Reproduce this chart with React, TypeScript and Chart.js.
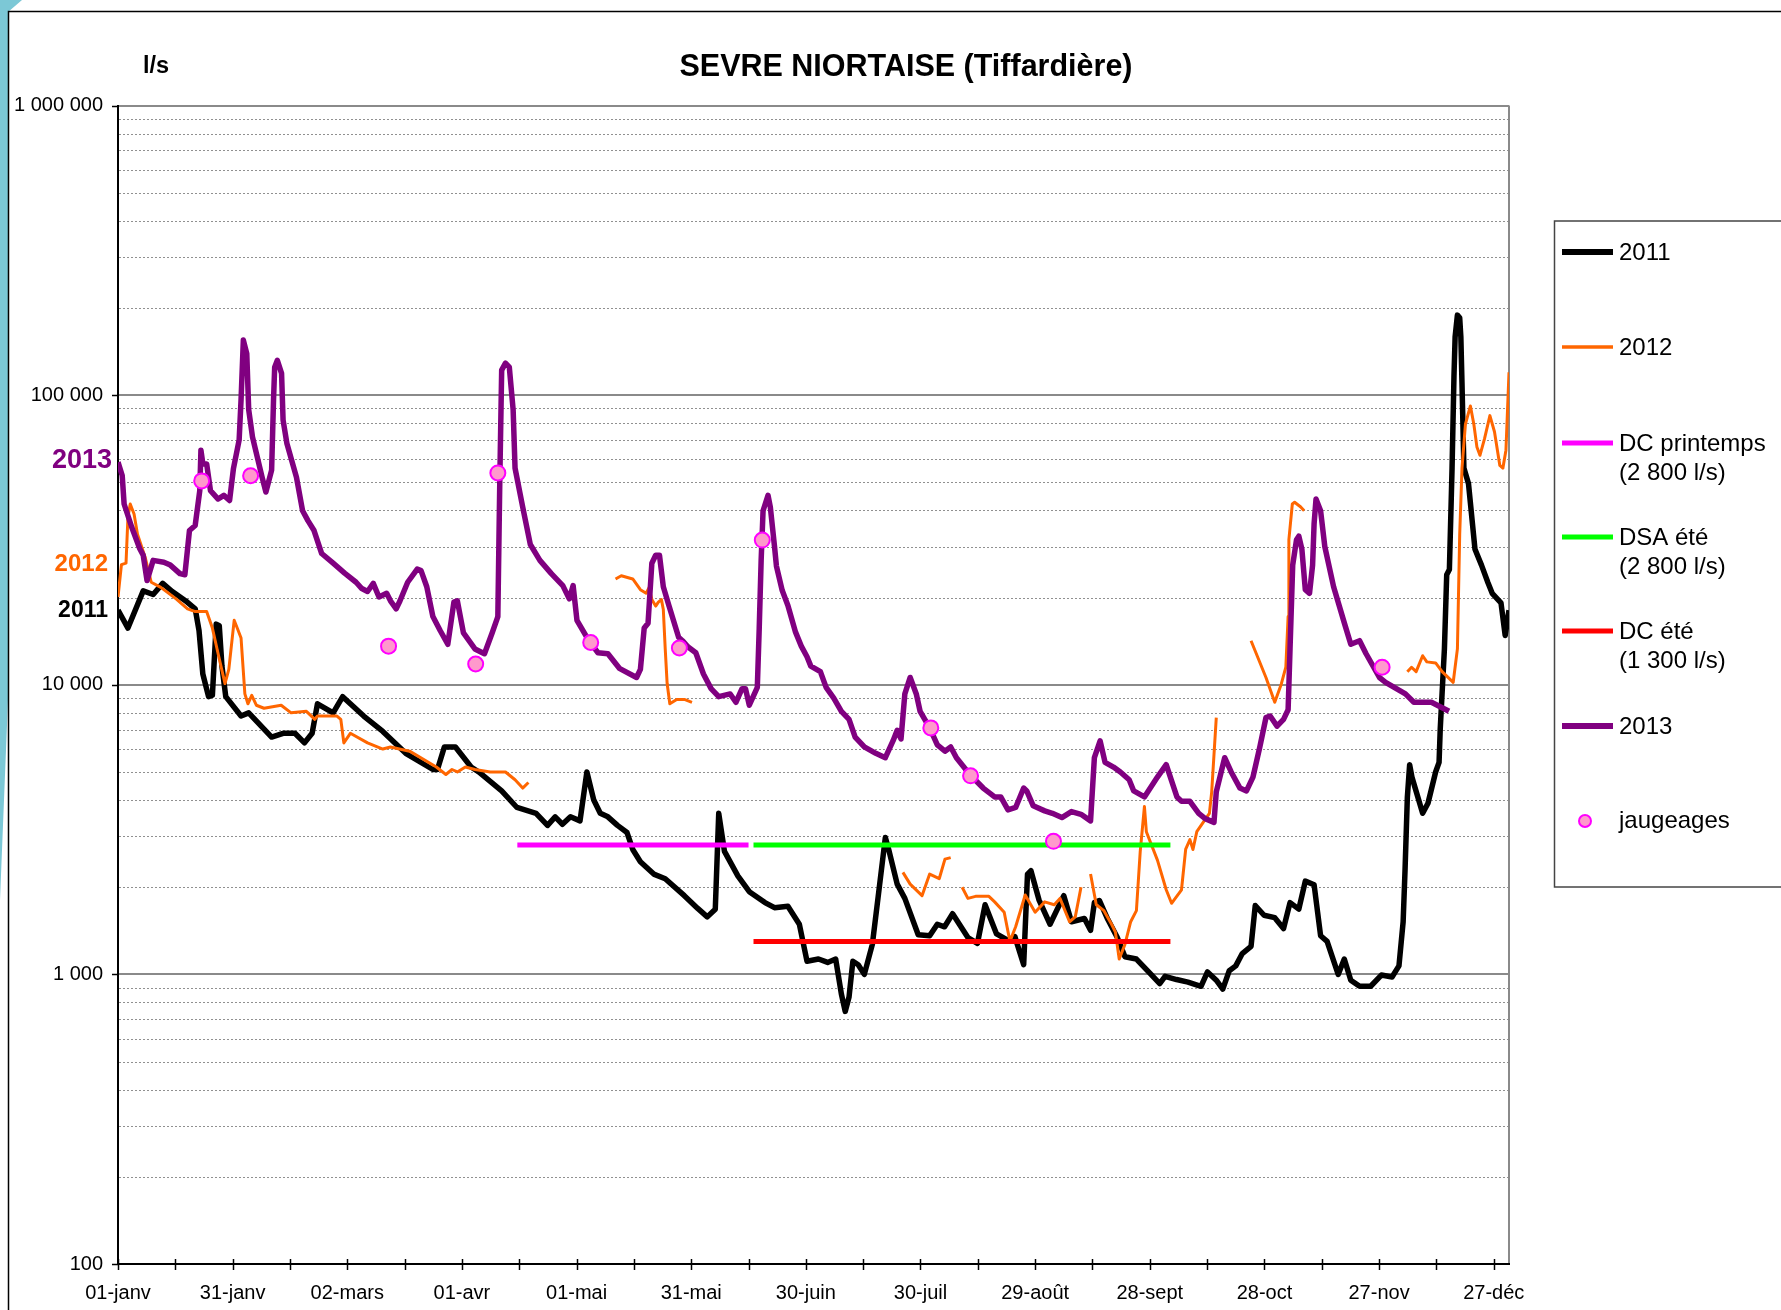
import React, { useEffect, useRef } from "react";
import { Chart, registerables } from "chart.js";

Chart.register(...registerables);

// ---------- Axis labels ----------
const X_TICK_DAYS = [0, 30, 60, 90, 120, 150, 180, 210, 240, 270, 300, 330, 360];
const X_TICK_LABELS = ["01-janv", "31-janv", "02-mars", "01-avr", "01-mai", "31-mai", "30-juin", "30-juil", "29-août", "28-sept", "28-oct", "27-nov", "27-déc"];
const Y_TICK_VALUES = [100, 1000, 10000, 100000, 1000000];
const Y_TICK_LABELS = ["100", "1 000", "10 000", "100 000", "1 000 000"];

// ---------- 2011 (day of year, l/s) ----------
const DAYS_2011 = [0, 2.6, 6.6, 9.2, 11.7, 14.2, 18.1, 20.2, 21.2, 22.2, 23.7, 24.7, 25.7, 26.5, 27.2, 28.2, 32.2, 34.2, 40.2, 43.2, 46.3, 48.8, 50.8, 52.2, 56.3, 58.8, 64.3, 69.3, 75.3, 82.4, 83.6, 85.4, 88.3, 92.4, 94.4, 100.4, 104.4, 109.4, 112.4, 114.4, 116.3, 118.4, 120.9, 122.7, 124.5, 126.2, 128.2, 130.7, 133.2, 134.7, 136.7, 140.2, 143.2, 148.2, 151.7, 154.2, 156.3, 157.2, 158.7, 162.2, 165.2, 169.3, 171.8, 175.3, 178.3, 180.3, 183.3, 185.7, 187.8, 189.3, 190.3, 191.3, 192.3, 193.7, 195.3, 197.4, 198.8, 200.8, 201.8, 203.9, 205.9, 209.4, 212.4, 214.4, 216.3, 218.4, 222.4, 224.9, 226.9, 229.9, 232.9, 234.7, 237.0, 238.0, 238.9, 241.0, 243.9, 247.5, 249.5, 252.9, 254.5, 255.5, 256.8, 259.0, 261.5, 263.5, 266.5, 269.7, 272.6, 274.0, 277.0, 280.0, 283.4, 285.1, 287.4, 289.1, 290.8, 292.5, 294.2, 296.5, 297.6, 299.9, 302.7, 305.0, 306.7, 309.0, 310.7, 313.0, 314.7, 316.4, 319.3, 320.9, 322.6, 324.9, 327.8, 330.6, 333.4, 335.2, 336.3, 336.8, 337.4, 338.0, 338.6, 341.4, 342.8, 344.8, 345.7, 346.0, 346.5, 347.1, 347.7, 348.4, 349.1, 349.6, 349.9, 350.5, 351.1, 351.4, 351.7, 352.2, 353.4, 355.1, 356.8, 358.5, 359.6, 361.9, 363.0, 364];
const FLOW_2011 = [18100, 15700, 21100, 20500, 22400, 21000, 19300, 18300, 15400, 10900, 9100, 9200, 16200, 16000, 11600, 9100, 7800, 8000, 6600, 6800, 6800, 6300, 6800, 8600, 8000, 9100, 7800, 6900, 5800, 5100, 5100, 6100, 6100, 5200, 5000, 4300, 3770, 3600, 3270, 3500, 3300, 3500, 3390, 5000, 4000, 3600, 3500, 3270, 3090, 2700, 2450, 2220, 2140, 1870, 1690, 1580, 1680, 3600, 2660, 2190, 1930, 1770, 1700, 1720, 1490, 1110, 1130, 1100, 1130, 855, 745, 835, 1110, 1080, 1000, 1270, 1800, 2970, 2660, 2050, 1830, 1370, 1360, 1490, 1460, 1620, 1340, 1280, 1740, 1380, 1310, 1350, 1080, 2220, 2280, 1810, 1490, 1870, 1520, 1560, 1420, 1770, 1800, 1550, 1340, 1150, 1130, 1020, 930, 985, 960, 940, 910, 1020, 955, 890, 1030, 1070, 1180, 1250, 1730, 1600, 1570, 1440, 1770, 1680, 2100, 2040, 1360, 1300, 1000, 1130, 955, 910, 910, 995, 980, 1070, 1520, 2300, 4090, 5300, 4800, 3600, 3900, 5000, 5400, 7000, 9400, 13300, 24000, 25000, 56000, 116000, 159000, 189000, 185000, 159000, 110000, 56000, 49500, 29400, 25900, 22500, 20700, 19200, 14800, 18100];

// ---------- 2012 (several recorded stretches) ----------
const DAYS_2012_A = [0, 0.9, 2.1, 2.6, 3.2, 4.2, 5.1, 7.1, 8.7, 11.2, 15.2, 18.2, 20.2, 23.2, 24.7, 26.2, 28.0, 29.0, 30.4, 31.2, 32.2, 33.2, 34.0, 35.0, 36.2, 38.2, 42.7, 45.3, 49.3, 51.5, 52.2, 57.3, 58.3, 59.1, 60.8, 65.3, 69.3, 71.3, 76.3, 83.3, 85.8, 87.4, 88.8, 90.9, 93.4, 97.4, 101.4, 103.9, 105.9, 107.4];
const FLOW_2012_A = [20100, 26000, 26300, 37900, 42100, 38900, 33100, 27600, 22600, 21700, 19800, 18300, 17900, 17900, 15700, 12800, 10100, 11300, 16700, 15700, 14500, 9300, 8600, 9200, 8500, 8300, 8500, 8000, 8100, 7600, 7800, 7800, 7600, 6300, 6800, 6300, 6000, 6100, 5900, 5200, 4900, 5100, 5000, 5200, 5100, 5000, 5000, 4700, 4400, 4600];
const DAYS_2012_B = [130.2, 131.7, 134.7, 136.7, 138.2, 139.0, 139.7, 140.7, 141.4, 142.2, 142.7, 143.2, 143.7, 144.4, 146.2, 148.2, 150.2];
const FLOW_2012_B = [23200, 23800, 23200, 21300, 20700, 21700, 19700, 18700, 19300, 19700, 18200, 13300, 10100, 8600, 8900, 8900, 8700];
const DAYS_2012_C = [205.4, 207.3, 210.4, 212.4, 214.9, 216.4, 217.9];
const FLOW_2012_C = [2250, 2050, 1870, 2220, 2140, 2500, 2530];
const DAYS_2012_D = [220.9, 222.4, 224.4, 227.9, 229.4, 231.9, 233.4, 234.9, 237.4, 240.0, 242.5, 245.0, 246.5, 249.0, 250.5, 252.0];
const FLOW_2012_D = [2000, 1830, 1860, 1860, 1780, 1640, 1300, 1460, 1880, 1640, 1780, 1740, 1830, 1520, 1580, 2000];
const DAYS_2012_E = [254.5, 256.0, 258.0, 260.0, 261.0, 262.0, 263.5, 265.0, 266.5, 267.5, 268.6, 269.1, 272.0, 274.3, 275.7, 278.3, 279.4, 280.5, 281.3, 282.3, 285.6, 286.2, 287.4];
const FLOW_2012_E = [2220, 1740, 1660, 1490, 1400, 1130, 1270, 1520, 1660, 2660, 3800, 3110, 2480, 1960, 1760, 1960, 2710, 2920, 2700, 3110, 3600, 4270, 7700];
const DAYS_2012_F = [296.5, 300.4, 302.7, 304.4, 305.6, 306.2, 306.4, 307.3, 307.9, 309.5, 310.4];
const FLOW_2012_F = [14200, 10600, 8700, 10050, 11500, 17200, 31700, 42100, 42700, 41100, 39900];
const DAYS_2012_G = [337.4, 338.5, 339.7, 341.4, 342.5, 344.8, 346.5, 349.4, 350.5, 351.1, 351.7, 352.6, 353.9, 354.8, 355.6, 356.4, 357.6, 359.0, 360.2, 361.6, 362.4, 363.2, 364.0];
const FLOW_2012_G = [11100, 11500, 11100, 12600, 12000, 11900, 11100, 10200, 13300, 33100, 56000, 79400, 91800, 79400, 66300, 62000, 70800, 85000, 74800, 57200, 56000, 64600, 120000];

// ---------- 2013 ----------
const DAYS_2013 = [0, 1.1, 1.6, 3.6, 5.7, 6.6, 7.6, 9.2, 12, 13.7, 16.2, 17.5, 18.7, 20.2, 21.4, 21.7, 22.2, 23.2, 24.2, 26.2, 27.7, 29.2, 30.2, 31.7, 32.2, 32.8, 33.7, 34.2, 35.2, 37.7, 38.7, 40.2, 40.7, 41.0, 41.7, 42.8, 43.2, 44.2, 46.7, 48.3, 49.7, 51.3, 53.3, 56.3, 59.3, 62.3, 63.8, 65.3, 66.8, 68.3, 70.3, 71.3, 72.8, 73.8, 75.8, 78.3, 79.3, 80.8, 82.4, 84.3, 86.3, 87.9, 88.8, 90.4, 93.4, 95.9, 97.9, 99.4, 99.9, 100.4, 101.4, 102.4, 103.4, 103.9, 105.9, 107.9, 110.4, 113.4, 116.4, 118.1, 119.1, 120.1, 123.2, 125.6, 128.2, 131.2, 135.7, 136.7, 137.7, 138.7, 139.7, 140.7, 141.7, 142.7, 144.2, 146.7, 147.7, 149.2, 151.2, 153.2, 155.2, 157.2, 160.2, 161.7, 163.3, 164.2, 165.2, 167.3, 167.8, 168.3, 168.8, 170.1, 170.7, 171.8, 172.3, 173.8, 175.3, 177.3, 178.8, 180.3, 181.3, 183.8, 185.3, 187.3, 189.3, 191.3, 192.9, 195.3, 198.3, 200.8, 202.8, 203.9, 204.9, 205.9, 207.3, 208.9, 209.9, 212.4, 214.4, 216.4, 217.9, 219.4, 222.9, 226.4, 229.4, 231.0, 232.9, 234.9, 237.0, 237.8, 239.5, 242.5, 244.5, 247.0, 249.5, 252.0, 254.5, 255.5, 257.0, 258.3, 260.5, 262.3, 264.6, 265.8, 268.6, 272.0, 274.3, 277.1, 278.3, 280.5, 282.8, 284.5, 286.8, 287.4, 289.6, 291.3, 293.6, 295.3, 297.0, 298.8, 300.4, 301.5, 303.3, 305.0, 306.2, 306.7, 307.4, 308.4, 309.0, 309.8, 310.7, 311.8, 312.6, 313.0, 313.5, 314.7, 315.8, 318.1, 321.0, 322.6, 324.9, 326.6, 330.1, 331.7, 336.9, 339.1, 343.7, 346.0, 348.3];
const FLOW_2013 = [58700, 52800, 42100, 35000, 29500, 28000, 22900, 26900, 26500, 25900, 24200, 24000, 34100, 35500, 46800, 64600, 58000, 57900, 46800, 43800, 45100, 43300, 55700, 70000, 96400, 155000, 139000, 89200, 71700, 52100, 46300, 55100, 96400, 125000, 132000, 119000, 82000, 68100, 52100, 39900, 36900, 34100, 28400, 26300, 24300, 22600, 21500, 21000, 22400, 20100, 20700, 19500, 18300, 19500, 22600, 25100, 24800, 21800, 17200, 15400, 13800, 19300, 19500, 15100, 13300, 12800, 15100, 17200, 49600, 122000, 129000, 125000, 89000, 56000, 41100, 30500, 26900, 24200, 22000, 19800, 22000, 16700, 14200, 12900, 12800, 11400, 10600, 11300, 15700, 16300, 26300, 28000, 28000, 21800, 18700, 14600, 14200, 13500, 12900, 10900, 9700, 9100, 9300, 8700, 9700, 9700, 8500, 9800, 15700, 26900, 39900, 45100, 41100, 30000, 25700, 21200, 18800, 15200, 13600, 12500, 11600, 11100, 9800, 9000, 8100, 7600, 6600, 6100, 5800, 5600, 6400, 6960, 6500, 9300, 10600, 9300, 8100, 7100, 6200, 5900, 6100, 5600, 4900, 4400, 4100, 4100, 3700, 3770, 4400, 4300, 3820, 3670, 3600, 3480, 3650, 3570, 3390, 5600, 6400, 5400, 5200, 5000, 4700, 4300, 4100, 4800, 5300, 4100, 3960, 3960, 3600, 3450, 3350, 4270, 5600, 5000, 4400, 4300, 4800, 6100, 7700, 7800, 7200, 7600, 8200, 13300, 25900, 31700, 32600, 29400, 21300, 20700, 25900, 36000, 43800, 39900, 30000, 21800, 16200, 13800, 14200, 12800, 10600, 10200, 9300, 8700, 8700, 8400, 8100];

// ---------- Thresholds ----------
const DC_PRINTEMPS_DAYS = [104.5, 165];
const DC_PRINTEMPS_FLOW = [2800, 2800];
const DSA_ETE_DAYS = [166.3, 275.4];
const DSA_ETE_FLOW = [2800, 2800];
const DC_ETE_DAYS = [166.3, 275.4];
const DC_ETE_FLOW = [1300, 1300];

// ---------- Gaugings ----------
const JAUGEAGE_DAYS = [21.9, 34.7, 70.8, 93.6, 99.4, 123.7, 146.9, 168.6, 212.7, 223.1, 244.8, 330.8];
const JAUGEAGE_FLOW = [50600, 52700, 13600, 11800, 53900, 14000, 13400, 31600, 7100, 4850, 2880, 11500];

const FONT = '"Liberation Sans", Arial, Helvetica, sans-serif';
const W = 1781;
const H = 1310;

const pts = (days: number[], flows: number[]) => days.map((d, i) => ({ x: d, y: flows[i] }));

const lineDs = (label: string, days: number[], flows: number[], color: string, width: number, order: number) => ({
  label,
  data: pts(days, flows),
  borderColor: color,
  backgroundColor: color,
  borderWidth: width,
  pointRadius: 0,
  tension: 0,
  borderJoinStyle: "round" as const,
  borderCapStyle: "butt" as const,
  fill: false,
  order,
});

const LEGEND = [
  { lines: ["2011"], color: "#000000", width: 6, y: 252 },
  { lines: ["2012"], color: "#FF6600", width: 3.5, y: 347 },
  { lines: ["DC printemps", "(2 800 l/s)"], color: "#FF00FF", width: 5, y: 443 },
  { lines: ["DSA été", "(2 800 l/s)"], color: "#00FF00", width: 5, y: 537 },
  { lines: ["DC été", "(1 300 l/s)"], color: "#FF0000", width: 5, y: 631 },
  { lines: ["2013"], color: "#800080", width: 6, y: 726 },
];

const decorPlugin = {
  id: "decor",
  beforeDraw(chart: any) {
    const { ctx, chartArea: a, scales } = chart;
    const ys = scales.y;
    ctx.save();
    ctx.fillStyle = "#ffffff";
    ctx.fillRect(0, 0, W, H);
    // teal strip on the left
    ctx.fillStyle = "#7CC8D6";
    ctx.beginPath();
    ctx.moveTo(0, 0);
    ctx.lineTo(22, 0);
    ctx.lineTo(8, 12);
    ctx.lineTo(8, 700);
    ctx.lineTo(0, 900);
    ctx.closePath();
    ctx.fill();
    // frame
    ctx.strokeStyle = "#000";
    ctx.lineWidth = 1.5;
    ctx.beginPath();
    ctx.moveTo(8.5, H + 5);
    ctx.lineTo(8.5, 11.5);
    ctx.lineTo(W + 5, 11.5);
    ctx.stroke();
    // horizontal grid
    for (let e = 2; e <= 6; e++) {
      for (let m = 1; m <= 9; m++) {
        const v = m * Math.pow(10, e);
        if (v > 1000000 || v === 100) continue;
        const py = ys.getPixelForValue(v);
        if (m === 1) {
          ctx.setLineDash([]);
          ctx.strokeStyle = "#8a8a8a";
          ctx.lineWidth = 2;
          ctx.beginPath();
          ctx.moveTo(a.left + 1, Math.round(py));
          ctx.lineTo(a.right, Math.round(py));
          ctx.stroke();
        } else {
          ctx.setLineDash([2, 2]);
          ctx.strokeStyle = "#909090";
          ctx.lineWidth = 1;
          ctx.beginPath();
          ctx.moveTo(a.left + 1, Math.round(py) + 0.5);
          ctx.lineTo(a.right, Math.round(py) + 0.5);
          ctx.stroke();
        }
      }
    }
    ctx.setLineDash([]);
    // right edge of plot
    ctx.strokeStyle = "#8a8a8a";
    ctx.lineWidth = 2;
    ctx.beginPath();
    ctx.moveTo(a.right, a.top);
    ctx.lineTo(a.right, a.bottom);
    ctx.stroke();
    ctx.restore();
  },
  afterDraw(chart: any) {
    const { ctx, chartArea: a, scales } = chart;
    const xs = scales.x;
    const ys = scales.y;
    ctx.save();
    // x tick marks crossing the axis
    ctx.strokeStyle = "#000";
    ctx.lineWidth = 1.5;
    for (let d = 0; d <= 360; d += 15) {
      const px = Math.round(xs.getPixelForValue(d)) + 0.5;
      ctx.beginPath();
      ctx.moveTo(px, a.bottom - 5);
      ctx.lineTo(px, a.bottom + 6);
      ctx.stroke();
    }
    // y tick marks
    for (const v of Y_TICK_VALUES) {
      const py = Math.round(ys.getPixelForValue(v)) + 0.5;
      ctx.beginPath();
      ctx.moveTo(a.left - 6, py);
      ctx.lineTo(a.left, py);
      ctx.stroke();
    }
    // title & unit
    ctx.fillStyle = "#000";
    ctx.textBaseline = "middle";
    ctx.textAlign = "center";
    ctx.font = `bold 30.5px ${FONT}`;
    ctx.fillText("SEVRE NIORTAISE (Tiffardière)", 906, 68);
    ctx.textAlign = "left";
    ctx.font = `bold 23.5px ${FONT}`;
    ctx.fillText("l/s", 143, 67);
    // year labels on the left
    ctx.textAlign = "right";
    ctx.font = `bold 27px ${FONT}`;
    ctx.fillStyle = "#800080";
    ctx.fillText("2013", 112, 461);
    ctx.font = `bold 24px ${FONT}`;
    ctx.fillStyle = "#FF6600";
    ctx.fillText("2012", 108, 564);
    ctx.font = `bold 23px ${FONT}`;
    ctx.fillStyle = "#000";
    ctx.fillText("2011", 108, 611);
    // legend
    ctx.strokeStyle = "#444";
    ctx.lineWidth = 1.5;
    ctx.strokeRect(1554.5, 221, 400, 666);
    ctx.textAlign = "left";
    ctx.font = `24px ${FONT}`;
    for (const it of LEGEND) {
      ctx.strokeStyle = it.color;
      ctx.lineWidth = it.width;
      ctx.beginPath();
      ctx.moveTo(1562, it.y);
      ctx.lineTo(1613, it.y);
      ctx.stroke();
      ctx.fillStyle = "#000";
      it.lines.forEach((t, i) => ctx.fillText(t, 1619, it.y + 1 + i * 29.5));
    }
    ctx.fillStyle = "#FF99CC";
    ctx.strokeStyle = "#FF00FF";
    ctx.lineWidth = 2;
    ctx.beginPath();
    ctx.arc(1585, 821, 6, 0, Math.PI * 2);
    ctx.fill();
    ctx.stroke();
    ctx.fillStyle = "#000";
    ctx.fillText("jaugeages", 1619, 821);
    ctx.restore();
  },
};

export default function App() {
  const ref = useRef<HTMLCanvasElement | null>(null);
  useEffect(() => {
    if (!ref.current) return;
    const gridValues: number[] = [];
    for (let e = 2; e <= 6; e++) for (let m = 1; m <= 9; m++) { const v = m * Math.pow(10, e); if (v <= 1000000) gridValues.push(v); }
    const xTicks: number[] = [];
    for (let d = 0; d <= 360; d += 15) xTicks.push(d);

    const orange = "#FF6600";
    const chart = new Chart(ref.current, {
      type: "line",
      data: {
        datasets: [
          {
            label: "jaugeages",
            data: pts(JAUGEAGE_DAYS, JAUGEAGE_FLOW),
            showLine: false,
            pointRadius: 7.5,
            pointBackgroundColor: "#FF99CC",
            pointBorderColor: "#FF00FF",
            pointBorderWidth: 2,
            order: 0,
          } as any,
          lineDs("DC été", DC_ETE_DAYS, DC_ETE_FLOW, "#FF0000", 5, 1),
          lineDs("DSA été", DSA_ETE_DAYS, DSA_ETE_FLOW, "#00FF00", 5, 2),
          lineDs("DC printemps", DC_PRINTEMPS_DAYS, DC_PRINTEMPS_FLOW, "#FF00FF", 5, 3),
          lineDs("2013", DAYS_2013, FLOW_2013, "#800080", 5.5, 4),
          lineDs("2012", DAYS_2012_A, FLOW_2012_A, orange, 3, 5),
          lineDs("2012b", DAYS_2012_B, FLOW_2012_B, orange, 3, 5),
          lineDs("2012c", DAYS_2012_C, FLOW_2012_C, orange, 3, 5),
          lineDs("2012d", DAYS_2012_D, FLOW_2012_D, orange, 3, 5),
          lineDs("2012e", DAYS_2012_E, FLOW_2012_E, orange, 3, 5),
          lineDs("2012f", DAYS_2012_F, FLOW_2012_F, orange, 3, 5),
          lineDs("2012g", DAYS_2012_G, FLOW_2012_G, orange, 3, 5),
          lineDs("2011", DAYS_2011, FLOW_2011, "#000000", 5.5, 6),
        ],
      },
      options: {
        animation: false,
        responsive: false,
        devicePixelRatio: 1,
        events: [],
        layout: { padding: { top: 105.6, right: W - 1509, bottom: 0, left: 0 } },
        plugins: { legend: { display: false }, title: { display: false }, tooltip: { enabled: false } },
        scales: {
          x: {
            type: "linear",
            min: 0,
            max: 364,
            afterBuildTicks: (s: any) => { s.ticks = xTicks.map((v) => ({ value: v })); },
            afterFit: (s: any) => { s.height = H - 1264; },
            ticks: {
              autoSkip: false,
              maxRotation: 0,
              padding: 17,
              color: "#000",
              font: { family: FONT, size: 20 },
              callback: (v: any) => { const i = X_TICK_DAYS.indexOf(Number(v)); return i >= 0 ? X_TICK_LABELS[i] : ""; },
            },
            grid: { display: false, drawTicks: false },
            border: { display: true, color: "#000", width: 2 },
          },
          y: {
            type: "logarithmic",
            min: 100,
            max: 1000000,
            afterBuildTicks: (s: any) => { s.ticks = gridValues.map((v) => ({ value: v })); },
            afterFit: (s: any) => { s.width = 118; },
            ticks: {
              autoSkip: false,
              padding: 15,
              color: "#000",
              font: { family: FONT, size: 20 },
              callback: (v: any) => { const i = Y_TICK_VALUES.indexOf(Number(v)); return i >= 0 ? Y_TICK_LABELS[i] : ""; },
            },
            grid: { display: false, drawTicks: false },
            border: { display: true, color: "#000", width: 2 },
          },
        },
      } as any,
      plugins: [decorPlugin],
    });
    return () => chart.destroy();
  }, []);

  return (
    <div style={{ position: "absolute", left: 0, top: 0, width: W, height: H, overflow: "hidden", background: "#fff" }}>
      <canvas ref={ref} width={W} height={H} style={{ display: "block", width: W, height: H }} />
    </div>
  );
}
